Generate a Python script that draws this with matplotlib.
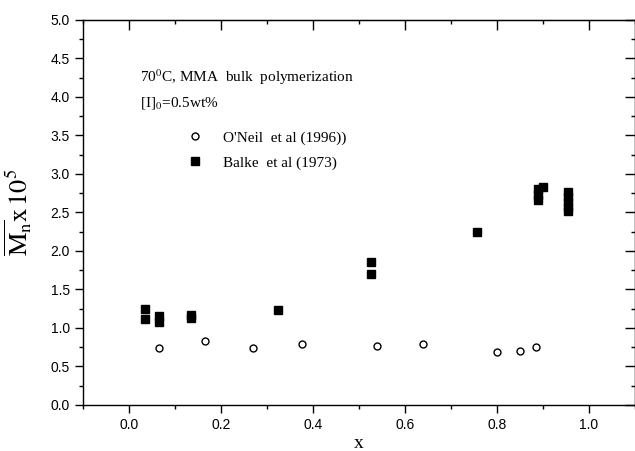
import numpy as np
import matplotlib.pyplot as plt
from matplotlib.ticker import MultipleLocator, FormatStrFormatter

plt.rcParams['mathtext.fontset'] = 'stix'

# O'Neil et al (1996)
x_oneil = [0.065, 0.165, 0.27, 0.375, 0.54, 0.64, 0.80, 0.85, 0.885]
y_oneil = [0.74, 0.83, 0.74, 0.79, 0.77, 0.79, 0.69, 0.705, 0.75]

# Balke et al (1973)
x_balke = [0.034, 0.034, 0.065, 0.065, 0.135, 0.135, 0.323, 0.525, 0.525,
           0.757, 0.89, 0.89, 0.89, 0.90, 0.955, 0.955, 0.955, 0.955, 0.955]
y_balke = [1.24, 1.12, 1.16, 1.08, 1.17, 1.13, 1.23, 1.86, 1.70,
           2.25, 2.80, 2.73, 2.66, 2.83, 2.77, 2.70, 2.63, 2.57, 2.52]

fig = plt.figure(figsize=(6.35, 4.51), dpi=100)
ax = fig.add_axes([0.131, 0.102, 0.869, 0.854])

ax.plot(x_oneil, y_oneil, 'o', ms=5, mfc='white', mec='black', mew=1.0,
        label="O'Neil  et al (1996))")
ax.plot(x_balke, y_balke, 's', ms=5.5, mfc='black', mec='black',
        label="Balke  et al (1973)")

ax.set_xlim(-0.1, 1.1)
ax.set_ylim(0, 5)
ax.xaxis.set_major_locator(MultipleLocator(0.2))
ax.xaxis.set_minor_locator(MultipleLocator(0.1))
ax.yaxis.set_major_locator(MultipleLocator(0.5))
ax.yaxis.set_minor_locator(MultipleLocator(0.25))
ax.xaxis.set_major_formatter(FormatStrFormatter('%.1f'))
ax.yaxis.set_major_formatter(FormatStrFormatter('%.1f'))

ax.tick_params(which='both', direction='out', top=False, right=False,
               labelsize=10, width=1.0)
ax.tick_params(which='major', length=6)
ax.tick_params(which='minor', length=3)
for lab in ax.get_xticklabels() + ax.get_yticklabels():
    lab.set_family('Liberation Sans')

# inward ticks on top and right
ax_t = ax.secondary_xaxis('top')
ax_t.xaxis.set_major_locator(MultipleLocator(0.2))
ax_t.xaxis.set_minor_locator(MultipleLocator(0.1))
ax_t.tick_params(which='both', direction='in', labeltop=False, width=1.0)
ax_t.tick_params(which='major', length=7)
ax_t.tick_params(which='minor', length=3)
ax_r = ax.secondary_yaxis('right')
ax_r.yaxis.set_major_locator(MultipleLocator(0.5))
ax_r.yaxis.set_minor_locator(MultipleLocator(0.25))
ax_r.tick_params(which='both', direction='in', labelright=False, width=1.0)
ax_r.tick_params(which='major', length=7)
ax_r.tick_params(which='minor', length=3)

for s in ax.spines.values():
    s.set_linewidth(1.0)

ax.set_xlabel('x', family='Liberation Serif', fontsize=14, labelpad=2)
ax.set_ylabel(r'$\overline{\mathrm{M}_{\mathrm{n}}}\mathrm{x}\,10^{5}$',
              fontsize=19, labelpad=12)

ax.text(0.024, 4.19, r'70$^{0}$C, MMA  bulk  polymerization',
        family='Liberation Serif', fontsize=11, va='baseline')
ax.text(0.024, 3.87, r'[I]$_{0}$=0.5wt%',
        family='Liberation Serif', fontsize=11, va='baseline')

leg = ax.legend(loc='upper left', bbox_to_anchor=(0.189, 0.712), frameon=False,
                prop={'family': 'Liberation Serif', 'size': 11},
                borderpad=0, borderaxespad=0, handlelength=1.0,
                handletextpad=1.33, labelspacing=0.75, numpoints=1)

fig.savefig('out.png', dpi=100)
